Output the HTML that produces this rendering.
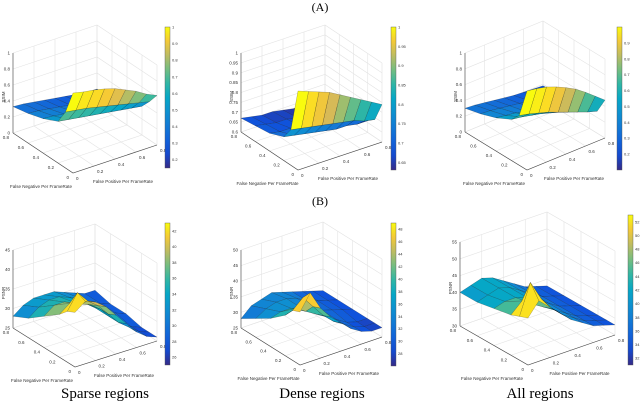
<!DOCTYPE html>
<html><head><meta charset="utf-8">
<style>
html,body{margin:0;padding:0;background:#fff;}
svg{display:block;font-family:"Liberation Sans",sans-serif;}
.cap{font-family:"Liberation Serif",serif;}
</style></head>
<body>
<svg id="fig" width="640" height="405" viewBox="0 0 640 405">
<text x="320" y="11" text-anchor="middle" font-size="12" class="cap">(A)</text>
<text x="320" y="205" text-anchor="middle" font-size="12" class="cap">(B)</text>
<text x="105" y="398" text-anchor="middle" font-size="15" class="cap">Sparse regions</text>
<text x="322" y="398" text-anchor="middle" font-size="15" class="cap">Dense regions</text>
<text x="540" y="398" text-anchor="middle" font-size="15" class="cap">All regions</text>
</svg>
<script>
// ---- data ----
const fpVals = [0,0.1,0.2,0.3,0.4,0.5,0.6,0.7,0.8];
const fnVals = [0,0.1,0.2,0.4,0.6,0.8];
const fpTicks = [0,0.2,0.4,0.6,0.8];
const fnTicks = [0,0.2,0.4,0.6,0.8];
const sparseSSIM = [
 [1.00,0.97,0.95,0.92,0.88,0.82,0.76,0.68,0.62],
 [0.70,0.68,0.66,0.63,0.60,0.57,0.54,0.51,0.48],
 [0.52,0.50,0.48,0.46,0.44,0.42,0.40,0.38,0.36],
 [0.43,0.42,0.40,0.38,0.36,0.34,0.32,0.30,0.28],
 [0.37,0.36,0.34,0.32,0.30,0.28,0.26,0.24,0.22],
 [0.33,0.32,0.30,0.28,0.26,0.24,0.22,0.20,0.20]];
const denseSSIM = [
 [1.00,0.98,0.96,0.94,0.91,0.88,0.85,0.82,0.79],
 [0.78,0.77,0.76,0.75,0.74,0.73,0.72,0.70,0.69],
 [0.72,0.71,0.70,0.69,0.68,0.67,0.67,0.66,0.66],
 [0.69,0.68,0.68,0.67,0.66,0.65,0.65,0.64,0.64],
 [0.68,0.67,0.66,0.66,0.65,0.64,0.64,0.63,0.63],
 [0.67,0.66,0.65,0.65,0.64,0.63,0.63,0.62,0.62]];
const allSSIM = [
 [1.00,0.98,0.95,0.90,0.84,0.77,0.68,0.58,0.48],
 [0.63,0.60,0.56,0.52,0.47,0.42,0.37,0.32,0.28],
 [0.52,0.50,0.47,0.44,0.40,0.36,0.32,0.28,0.25],
 [0.42,0.40,0.38,0.35,0.32,0.29,0.26,0.24,0.22],
 [0.35,0.34,0.32,0.30,0.28,0.26,0.24,0.22,0.20],
 [0.30,0.29,0.27,0.25,0.23,0.21,0.20,0.19,0.18]];
const sparsePSNR = [
 [39,41,40,38,35,32,29,27,26],
 [38,42,39,37,34,31,29,27,26],
 [36,38,37,36,34,31,29,27,26],
 [33,35,35,34,33,31,29,28,27],
 [30,32,33,33,32,31,29,28,27],
 [28,30,31,31,31,30,29,28,28]];
const densePSNR = [
 [42,47,41,37,34,31,29,28,28],
 [41,44,40,36,33,31,29,28,28],
 [38,39,37,35,33,31,29,28,28],
 [34,35,35,34,33,31,30,29,28],
 [31,33,34,34,33,31,30,29,28],
 [28,31,32,33,32,31,30,29,28]];
const allPSNR = [
 [44,48,45,42,39,37,35,34,33],
 [43,52,46,42,39,37,35,34,33],
 [42,45,43,41,39,37,35,34,33],
 [41,42,42,41,39,37,35,34,33],
 [40,41,42,41,39,37,35,34,33],
 [40,41,42,41,39,37,35,34,33]];
const ssimTicksA = [0,0.2,0.4,0.6,0.8,1];
const ssimTicksB = [0.6,0.65,0.7,0.75,0.8,0.85,0.9,0.95,1];
const psnrTicksA = [25,30,35,40,45];
const psnrTicksB = [25,30,35,40,45,50];
const psnrTicksC = [30,35,40,45,50,55];
const cbTicksA = [0.2,0.3,0.4,0.5,0.6,0.7,0.8,0.9,1];
const cbTicksB = [0.65,0.7,0.75,0.8,0.85,0.9,0.95,1];
const cbTicksC = [0.2,0.3,0.4,0.5,0.6,0.7,0.8,0.9];
const cbTicksD = [26,28,30,32,34,36,38,40,42];
const cbTicksE = [28,30,32,34,36,38,40,42,44,46,48];
const cbTicksF = [32,34,36,38,40,42,44,46,48,50,52];

// ---- layout ----
const panels = [
 {id:'sparse-ssim',z:sparseSSIM,zt:ssimTicksA,zmin:0,zmax:1,cmin:0.15,cmax:1,cb:cbTicksA,zl:'SSIM',ax:13,at:53,ab:133,fx:73,fy:173,rx:157,ry:145,cbx:165,cbt:27,cbb:168},
 {id:'dense-ssim',z:denseSSIM,zt:ssimTicksB,zmin:0.6,zmax:1,cmin:0.63,cmax:1,cb:cbTicksB,zl:'SSIM',ax:241,at:53,ab:132,fx:298,fy:170,rx:382,ry:142,cbx:391,cbt:27,cbb:170},
 {id:'all-ssim',z:allSSIM,zt:ssimTicksA,zmin:0,zmax:1,cmin:0.1,cmax:1,cb:cbTicksC,zl:'SSIM',ax:465,at:53,ab:132,fx:527,fy:170,rx:605,ry:138,cbx:617,cbt:27,cbb:170},
 {id:'sparse-psnr',z:sparsePSNR,zt:psnrTicksA,zmin:25,zmax:45,cmin:25,cmax:43,cb:cbTicksD,zl:'PSNR',ax:13,at:250,ab:328,fx:75,fy:367,rx:157,ry:341,cbx:165,cbt:223,cbb:365},
 {id:'dense-psnr',z:densePSNR,zt:psnrTicksB,zmin:25,zmax:50,cmin:26,cmax:49,cb:cbTicksE,zl:'PSNR',ax:241,at:250,ab:328,fx:300,fy:365,rx:382,ry:337,cbx:391,cbt:223,cbb:366},
 {id:'all-psnr',z:allPSNR,zt:psnrTicksC,zmin:30,zmax:55,cmin:31,cmax:53,cb:cbTicksF,zl:'PSNR',ax:460,at:242,ab:326,fx:528,fy:365,rx:615,ry:335,cbx:628,cbt:215,cbb:365}
];
const stops=[[0,[53,42,135]],[0.12,[15,80,220]],[0.25,[20,110,215]],[0.38,[16,140,210]],[0.5,[6,167,198]],[0.62,[56,185,158]],[0.74,[146,191,115]],[0.84,[217,186,86]],[0.92,[252,206,46]],[1,[249,251,14]]];
function cmap(t){t=Math.max(0,Math.min(1,t));for(let i=1;i<stops.length;i++){if(t<=stops[i][0]){const a=stops[i-1],b=stops[i];const f=(t-a[0])/(b[0]-a[0]);const c=a[1].map((v,k)=>Math.round(v+(b[1][k]-v)*f));return `rgb(${c[0]},${c[1]},${c[2]})`;}}return 'rgb(249,251,14)';}
const NS='http://www.w3.org/2000/svg';
const svg=document.getElementById('fig');
function el(tag,attrs,parent){const e=document.createElementNS(NS,tag);for(const k in attrs)e.setAttribute(k,attrs[k]);(parent||svg).appendChild(e);return e;}
const fpMax=0.8, fnMax=0.8;

panels.forEach(p=>{
 const g=el('g',{});
 
 
 const FN=[p.ax-p.fx,p.ab-p.fy], FP=[p.rx-p.fx,p.ry-p.fy], H=p.ab-p.at;
 const xS=fp=>fp/fpMax, yS=fn=>fn/fnMax, zS=z=>(z-p.zmin)/(p.zmax-p.zmin);
 function P(fp,fn,z){const a=xS(fp),b=yS(fn),c=zS(z);return [p.fx+a*FP[0]+b*FN[0], p.fy+a*FP[1]+b*FN[1]-c*H];}
 const grid='#e3e3e3';
 fpTicks.forEach(t=>{const a=P(t,fnMax,p.zmin),b=P(t,fnMax,p.zmax);el('line',{x1:a[0],y1:a[1],x2:b[0],y2:b[1],stroke:grid,'stroke-width':0.6},g);
   const c=P(t,0,p.zmin);el('line',{x1:a[0],y1:a[1],x2:c[0],y2:c[1],stroke:grid,'stroke-width':0.6},g);});
 fnTicks.forEach(t=>{const a=P(fpMax,t,p.zmin),b=P(fpMax,t,p.zmax);el('line',{x1:a[0],y1:a[1],x2:b[0],y2:b[1],stroke:grid,'stroke-width':0.6},g);
   const c=P(0,t,p.zmin);el('line',{x1:a[0],y1:a[1],x2:c[0],y2:c[1],stroke:grid,'stroke-width':0.6},g);});
 p.zt.forEach(t=>{const a=P(0,fnMax,t),b=P(fpMax,fnMax,t),c=P(fpMax,0,t);el('polyline',{points:`${a} ${b} ${c}`,fill:'none',stroke:grid,'stroke-width':0.6},g);});
 const faces=[];
 for(let i=0;i<fnVals.length-1;i++)for(let j=0;j<fpVals.length-1;j++){
   const zs=[p.z[i][j],p.z[i][j+1],p.z[i+1][j+1],p.z[i+1][j]];
   const pts=[P(fpVals[j],fnVals[i],zs[0]),P(fpVals[j+1],fnVals[i],zs[1]),P(fpVals[j+1],fnVals[i+1],zs[2]),P(fpVals[j],fnVals[i+1],zs[3])];
   const depth=yS((fnVals[i]+fnVals[i+1])/2)+xS((fpVals[j]+fpVals[j+1])/2);
   faces.push({pts,depth,v:Math.max(...zs)});
 }
 faces.sort((a,b)=>b.depth-a.depth);
 faces.forEach(f=>{
   const poly=el('polygon',{points:f.pts.map(q=>q.join(',')).join(' '),fill:cmap((f.v-p.cmin)/(p.cmax-p.cmin)),stroke:'rgba(0,0,0,0.45)','stroke-width':0.35},g);
   
   
 });
 const z0=P(0,fnMax,p.zmin),z1=P(0,fnMax,p.zmax);
 el('line',{x1:z0[0],y1:z0[1],x2:z1[0],y2:z1[1],stroke:'#444','stroke-width':0.6},g);
 const o=P(0,0,p.zmin),r=P(fpMax,0,p.zmin);
 el('polyline',{points:`${z0} ${o} ${r}`,fill:'none',stroke:'#444','stroke-width':0.6},g);
 p.zt.forEach(t=>{const q=P(0,fnMax,t);const tx=el('text',{x:q[0]-3,y:q[1]+1.5,'font-size':4.5,'text-anchor':'end',fill:'#333'},g);tx.textContent=t;});
 fnTicks.forEach(t=>{const q=P(0,t,p.zmin);const tx=el('text',{x:q[0]-4,y:q[1]+6,'font-size':4.5,'text-anchor':'end',fill:'#333'},g);tx.textContent=t;});
 fpTicks.forEach(t=>{const q=P(t,0,p.zmin);const tx=el('text',{x:q[0]+3,y:q[1]+7,'font-size':4.5,fill:'#333'},g);tx.textContent=t;});
 const zl=el('text',{transform:`translate(${p.ax-8},${(p.at+p.ab)/2+4}) rotate(-90)`,'font-size':4.5,'text-anchor':'middle',fill:'#333'},g);
 zl.textContent=p.zl;
 
 
 const fnl=el('text',{x:(p.ax+p.fx)/2-2,y:p.fy+15,'font-size':4.5,'text-anchor':'middle',fill:'#333'},g);
 fnl.textContent='False Negative Per FrameRate';
 
 
 const fpl=el('text',{x:(p.fx+p.rx)/2+8,y:p.fy+10,'font-size':4.5,'text-anchor':'middle',fill:'#333'},g);
 fpl.textContent='False Positive Per FrameRate';
 
 
 const gid='grad-'+p.id;
 const defs=el('defs',{},g);
 const lg=el('linearGradient',{id:gid,x1:0,y1:1,x2:0,y2:0},defs);
 for(let k=0;k<=10;k++)el('stop',{offset:k/10,'stop-color':cmap(k/10)},lg);
 const cb=el('rect',{x:p.cbx,y:p.cbt,width:5,height:p.cbb-p.cbt,fill:`url(#${gid})`,stroke:'#555','stroke-width':0.4},g);
 
 
 p.cb.forEach(t=>{const y=p.cbb-(t-p.cmin)/(p.cmax-p.cmin)*(p.cbb-p.cbt);const tx=el('text',{x:p.cbx+7,y:y+1.5,'font-size':4,fill:'#333'},g);tx.textContent=t;});
});
</script>
</body></html>
